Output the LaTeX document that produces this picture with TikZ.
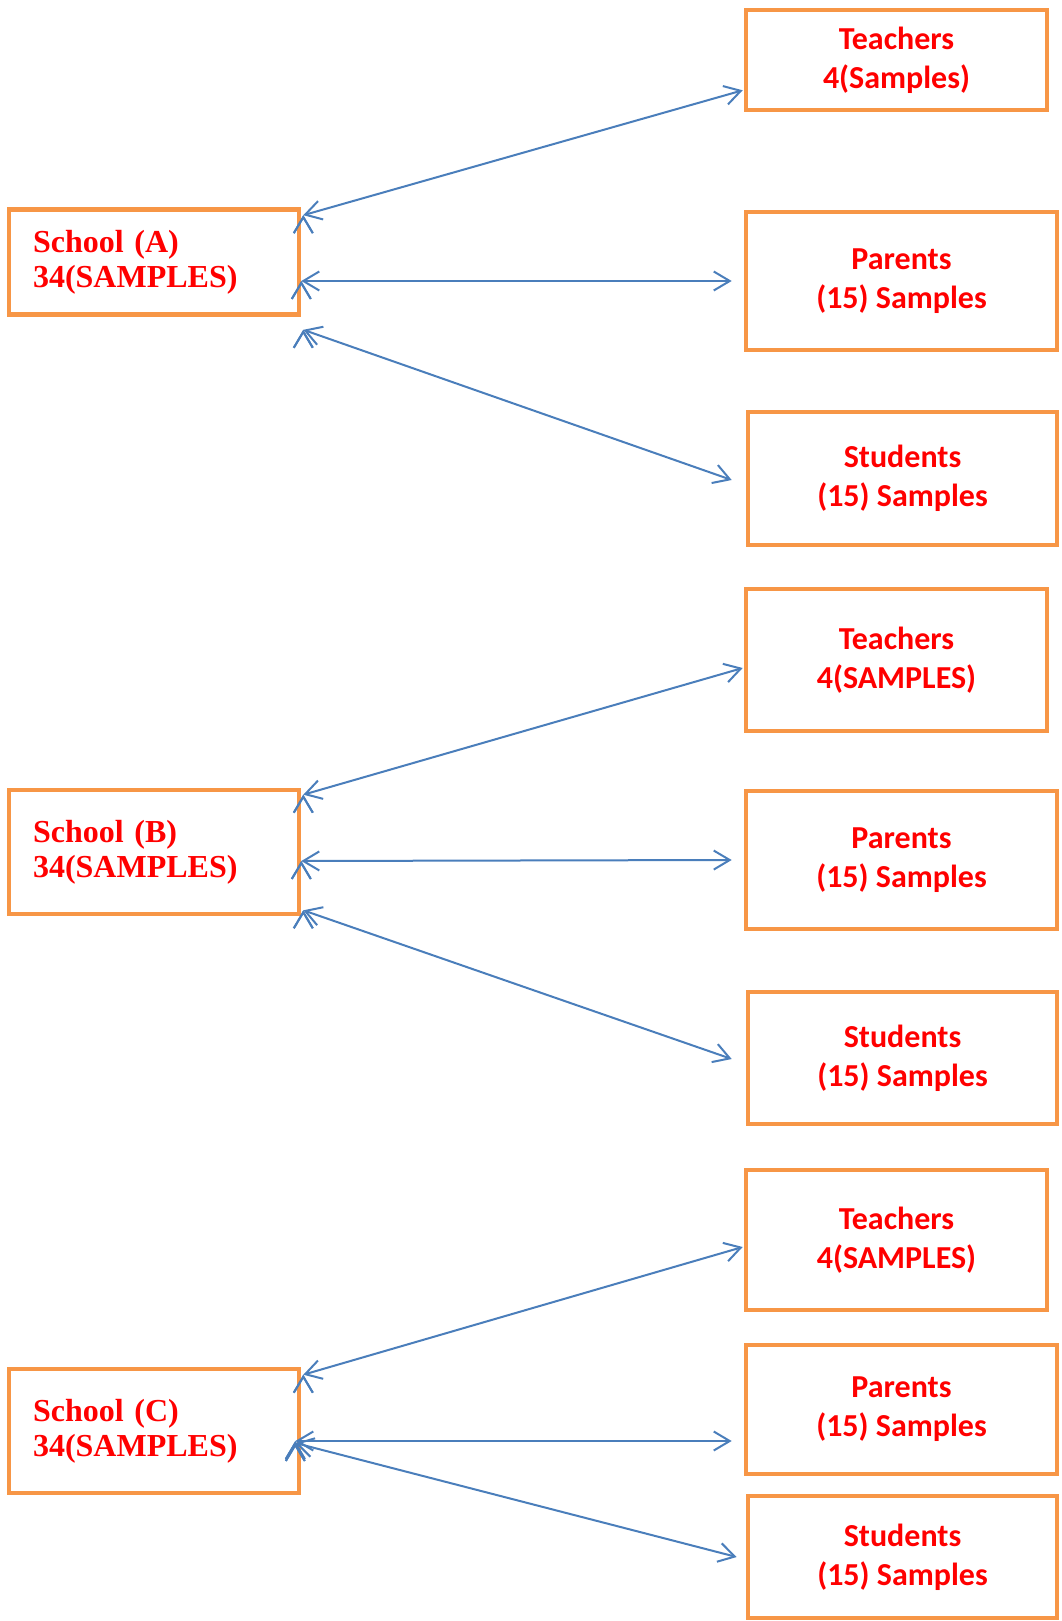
\documentclass[tikz,border=0pt]{standalone}
\usepackage{fontspec}
\setmainfont{Liberation Serif}
\newfontfamily\calfont{Carlito}
\usetikzlibrary{positioning,arrows.meta}

\definecolor{boxorange}{HTML}{F79646}
\definecolor{linkblue}{HTML}{4A7EBB}

\tikzset{
  group/.style={draw=boxorange, line width=2.3pt, inner sep=0pt, text=red},
  school/.style={group, align=left, text width=121pt, inner xsep=12pt,
    minimum height=#1, font=\bfseries\fontsize{16}{17.5}\selectfont},
  member/.style 2 args={group, align=center, minimum width=#1,
    minimum height=#2, font=\calfont\bfseries\fontsize{16}{19.5}\selectfont},
  link/.style={draw=linkblue, line width=1pt, >={Straight Barb[length=8pt,width=9.5pt]}, <->}
}

\begin{document}
\begin{tikzpicture}[x=0.5pt,y=-0.5pt]

  \useasboundingbox (0,0) rectangle (1061,1621);

  % school A
  \node[school=52.5pt] (schA) at (154,262) {School (A)\\34(SAMPLES)};
  \node[member={150.5pt}{50pt}] (teaA) at (896.5,60) {Teachers\\4(Samples)};
  \node[member={155.5pt}{69pt}] (parA) at (901.5,281) {Parents\\(15) Samples};
  \node[member={154.5pt}{66.5pt}] (stuA) at (902.5,478.5) {Students\\(15) Samples};

  % school B
  \node[school=62pt] (schB) at (154,852) {School (B)\\34(SAMPLES)};
  \node[member={150.5pt}{71pt}] (teaB) at (896.5,660) {Teachers\\4(SAMPLES)};
  \node[member={155.5pt}{69pt}] (parB) at (901.5,860) {Parents\\(15) Samples};
  \node[member={154.5pt}{66pt}] (stuB) at (902.5,1058) {Students\\(15) Samples};

  % school C
  \node[school=62pt] (schC) at (154,1431) {School (C)\\34(SAMPLES)};
  \node[member={150.5pt}{70pt}] (teaC) at (896.5,1240) {Teachers\\4(SAMPLES)};
  \node[member={155.5pt}{64.5pt}] (parC) at (901.5,1409.5) {Parents\\(15) Samples};
  \node[member={154.5pt}{61pt}] (stuC) at (902.5,1557) {Students\\(15) Samples};

  \path[link] ([xshift=1pt,yshift=-4pt]schA.north east) edge ([xshift=-0.5pt,yshift=11pt]teaA.south west);
  \path[link] ([yshift=-9.5pt]schA.east) edge ([xshift=-6pt]parA.west);
  \path[link] ([xshift=1pt,yshift=-6.5pt]schA.south east) edge ([xshift=-7pt,yshift=-0.75pt]stuA.west);

  \path[link] ([xshift=1pt,yshift=-3.5pt]schB.north east) edge ([xshift=-0.5pt,yshift=-4pt]teaB.west);
  \path[link] ([yshift=-4.5pt]schB.east) edge ([xshift=-6pt]parB.west);
  \path[link] ([xshift=1pt,yshift=3pt]schB.south east) edge ([xshift=-7pt,yshift=-0.5pt]stuB.west);

  \path[link] ([xshift=1pt,yshift=-4pt]schC.north east) edge ([xshift=-0.5pt,yshift=-3.5pt]teaC.west);
  \path[link] ([xshift=-3pt,yshift=-5pt]schC.east) edge ([xshift=-6pt,yshift=-15.75pt]parC.west);
  \path[link] ([xshift=-3pt,yshift=-6pt]schC.east) edge ([xshift=-4.5pt]stuC.west);

\end{tikzpicture}
\end{document}
